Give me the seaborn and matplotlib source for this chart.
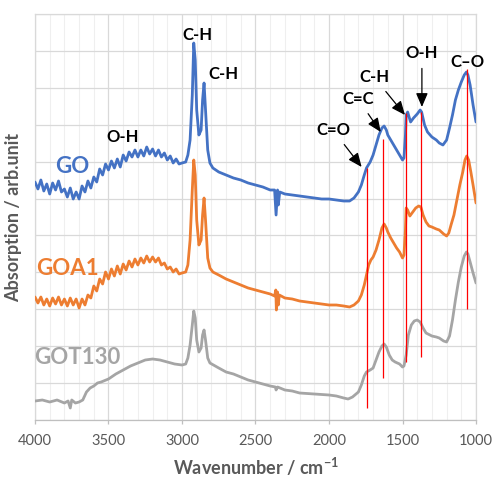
import numpy as np
import pandas as pd
import matplotlib
matplotlib.use("Agg")
import matplotlib.pyplot as plt
from matplotlib.ticker import MultipleLocator
import seaborn as sns

# spectra (wavenumber in cm-1, absorption in arbitrary units, curves stacked)
wn_go = [4000, 3980, 3960, 3940, 3920, 3900, 3880, 3860, 3840, 3820, 3800, 3780, 3760, 3740, 3720, 3700,
         3680, 3660, 3640, 3620, 3600, 3580, 3560, 3540, 3520, 3500, 3480, 3460, 3440, 3420, 3400, 3380,
         3360, 3340, 3320, 3300, 3280, 3260, 3240, 3220, 3200, 3180, 3160, 3140, 3120, 3100, 3080, 3060,
         3040, 3020, 3000, 2975, 2960, 2945, 2930, 2920, 2910, 2900,
         2885, 2870, 2860, 2850, 2840, 2825, 2810, 2790, 2750, 2700, 2650, 2600, 2550, 2500, 2450, 2400,
         2370, 2360, 2350, 2345, 2335, 2300, 2250, 2200, 2150, 2100, 2050, 2000, 1950, 1900, 1860, 1830,
         1800, 1780, 1760, 1745, 1720, 1700, 1680, 1660, 1640, 1625, 1610, 1600, 1580, 1560, 1540, 1520,
         1500, 1490, 1480, 1475, 1465, 1445, 1425, 1400, 1380, 1370, 1350, 1330, 1300, 1270, 1250, 1225,
         1200, 1180, 1160, 1140, 1120, 1100, 1080, 1065, 1055, 1040, 1020, 1000]
abs_go = [238, 231, 240, 229, 236, 226, 237, 230, 239, 228, 231, 223, 232, 221, 228, 221,
          234, 228, 239, 232, 243, 238, 251, 245, 256, 250, 259, 252, 261, 253, 265, 259,
          268, 263, 270, 263, 270, 264, 273, 266, 271, 264, 270, 263, 267, 260, 264, 257,
          261, 256, 257, 258, 265, 280, 325, 377, 360, 310,
          285, 290, 320, 337, 310, 270, 257, 252, 248, 245, 242, 240, 237, 235, 233, 230,
          230, 205, 230, 215, 228, 226, 225, 224, 223, 222, 221, 221, 220, 219, 219, 222,
          228, 235, 245, 252, 258, 265, 275, 285, 292, 294, 290, 285, 280, 275, 270, 265,
          260, 262, 285, 305, 308, 298, 302, 306, 310, 308, 295, 288, 283, 280, 277, 275,
          280, 292, 305, 320, 330, 338, 345, 348, 345, 335, 315, 298]

wn_goa1 = [4000, 3980, 3960, 3940, 3920, 3900, 3880, 3860, 3840, 3820, 3800, 3780, 3760, 3740, 3720, 3700,
           3680, 3660, 3640, 3620, 3600, 3580, 3560, 3540, 3520, 3500, 3480, 3460, 3440, 3420, 3400, 3380,
           3360, 3340, 3320, 3300, 3280, 3260, 3240, 3220, 3200, 3180, 3160, 3140, 3120, 3100, 3080, 3060,
           3040, 3020, 3000, 2975, 2960, 2945, 2930, 2920, 2910, 2900,
           2885, 2870, 2860, 2850, 2840, 2825, 2810, 2790, 2750, 2700, 2650, 2600, 2550, 2500, 2450, 2400,
           2370, 2362, 2358, 2350, 2345, 2338, 2300, 2250, 2200, 2150, 2100, 2050, 2000, 1950, 1900, 1860,
           1830, 1800, 1780, 1760, 1745, 1730, 1715, 1700, 1680, 1660, 1640, 1625, 1610, 1600, 1580, 1560,
           1540, 1520, 1500, 1490, 1480, 1475, 1465, 1450, 1430, 1410, 1390, 1375, 1360, 1340, 1320, 1300,
           1270, 1250, 1220, 1200, 1185, 1170, 1150, 1130, 1110, 1090, 1075, 1063, 1050, 1035, 1020, 1000]
abs_goa1 = [123, 117, 123, 115, 121, 114, 122, 116, 123, 115, 121, 114, 122, 115, 121, 112,
            121, 115, 125, 122, 134, 129, 141, 136, 148, 141, 151, 144, 154, 146, 156, 150,
            159, 153, 161, 155, 162, 157, 164, 158, 163, 158, 162, 155, 157, 151, 153, 148,
            151, 146, 147, 148, 155, 180, 230, 260, 245, 200,
            175, 180, 205, 222, 200, 162, 152, 148, 145, 141, 138, 135, 132, 130, 128, 126,
            124, 130, 110, 128, 115, 125, 122, 121, 119, 118, 117, 116, 115, 115, 114, 113,
            115, 119, 125, 135, 145, 155, 160, 163, 170, 180, 192, 196, 192, 188, 182, 177,
            172, 168, 162, 165, 190, 212, 210, 204, 208, 212, 214, 213, 205, 198, 194, 193,
            191, 190, 186, 184, 187, 195, 205, 220, 235, 248, 260, 264, 260, 248, 235, 217]

wn_got130 = [4000, 3950, 3900, 3850, 3800, 3775, 3760, 3750, 3725, 3700, 3675, 3650, 3625, 3600, 3575, 3550,
             3500, 3450, 3400, 3350, 3300, 3250, 3200, 3150, 3100, 3050, 3000, 2975, 2960, 2945, 2930, 2920,
             2910, 2900, 2885, 2870, 2860, 2850, 2840, 2825, 2810, 2750, 2700, 2650, 2600, 2550, 2500, 2450,
             2400, 2365, 2360, 2350, 2300, 2250, 2200, 2100, 2000, 1950, 1900, 1870, 1840, 1800, 1780, 1760,
             1745, 1720, 1700, 1680, 1660, 1640, 1625, 1610, 1590, 1570, 1550, 1520, 1500, 1490, 1475, 1460,
             1440, 1420, 1400, 1380, 1360, 1340, 1300, 1270, 1250, 1220, 1200, 1180, 1160, 1140, 1120, 1100,
             1080, 1065, 1055, 1040, 1020, 1000]
abs_got130 = [19, 20, 18, 20, 17, 19, 12, 20, 17, 18, 20, 28, 32, 34, 37, 38,
              41, 46, 50, 54, 57, 60, 61, 60, 58, 56, 55, 56, 62, 75, 95, 109,
              102, 80, 68, 72, 85, 90, 80, 62, 57, 52, 48, 46, 43, 40, 38, 36,
              34, 33, 30, 33, 30, 29, 27, 26, 25, 24, 22, 21, 23, 28, 35, 44,
              48, 50, 52, 60, 68, 74, 76, 73, 65, 60, 58, 56, 53, 54, 65, 85,
              95, 99, 100, 98, 92, 87, 84, 83, 82, 79, 78, 84, 100, 120, 138, 153,
              164, 168, 166, 158, 147, 137]

samples = ["GO", "GOA1", "GOT130"]
colors = ["#4472C4", "#ED7D31", "#A5A5A5"]

# red marker lines: wavenumber, bottom, top
line_wn = [1744, 1635, 1474, 1376, 1059]
line_lo = [12, 42, 58, 63, 111]
line_hi = [252, 281, 307, 308, 351]

# peak labels without arrows
plain_txt = ["O-H", "C-H", "C-H", "C\u2013O"]
plain_x = [3401, 2898, 2721, 1061]
plain_y = [283, 385, 346, 358]

# peak labels with arrows: text position, arrow tip
arrow_txt = ["C=O", "C=C", "C-H", "O-H"]
arrow_tx = [1973, 1803, 1694, 1368]
arrow_ty = [290, 321, 343, 367]
arrow_px = [1778, 1648, 1483, 1368]
arrow_py = [253, 288, 305, 313]

# series name labels
name_x = [3748, 3782, 3714]
name_y = [253, 151, 62]

df = pd.concat([
    pd.DataFrame({"wn": wn_go, "a": abs_go, "sample": "GO"}),
    pd.DataFrame({"wn": wn_goa1, "a": abs_goa1, "sample": "GOA1"}),
    pd.DataFrame({"wn": wn_got130, "a": abs_got130, "sample": "GOT130"}),
])

sns.set_style("white")
plt.rcParams["font.family"] = ["Lato", "DejaVu Sans"]
plt.rcParams["mathtext.fontset"] = "custom"
plt.rcParams["mathtext.rm"] = "Lato:bold"
plt.rcParams["mathtext.bf"] = "Lato:bold"

fig = plt.figure(figsize=(4.94, 4.78), dpi=100)
ax = fig.add_axes([35 / 494, 1 - 420 / 478, 441 / 494, 406 / 478])

sns.lineplot(data=df, x="wn", y="a", hue="sample", palette=dict(zip(samples, colors)),
             linewidth=2.0, legend=False, ax=ax, sort=False, zorder=3)

ax.vlines(line_wn, line_lo, line_hi, color="red", lw=0.9, zorder=4)

for t, x, y in zip(plain_txt, plain_x, plain_y):
    ax.text(x, y, t, ha="center", va="center", fontsize=12, fontweight="bold", color="black", zorder=5)

for t, tx, ty, px, py in zip(arrow_txt, arrow_tx, arrow_ty, arrow_px, arrow_py):
    ax.annotate(t, xy=(px, py), xytext=(tx, ty), ha="center", va="center",
                fontsize=12, fontweight="bold", color="black", zorder=5,
                arrowprops=dict(arrowstyle="-|>,head_length=0.7,head_width=0.3",
                                color="black", lw=0.9, shrinkA=3, shrinkB=0))

for name, c, x, y in zip(samples, colors, name_x, name_y):
    ax.text(x, y, name, ha="center", va="center", fontsize=16, fontweight="bold", color=c, zorder=5)

ax.set_xlim(4000, 1000)
ax.set_ylim(0, 406)
ax.xaxis.set_major_locator(MultipleLocator(500))
ax.xaxis.set_minor_locator(MultipleLocator(100))
ax.set_yticks(np.linspace(0, 406, 12))
ax.set_yticklabels([])
ax.grid(which="major", axis="both", color="#D9D9D9", lw=0.9)
ax.grid(which="minor", axis="x", color="#EFEFEF", lw=0.8)
ax.tick_params(axis="x", which="major", length=3, width=0.9, color="#BFBFBF",
               labelsize=10.5, labelcolor="#595959", pad=7, bottom=True)
ax.tick_params(axis="x", which="minor", length=0)
ax.tick_params(axis="y", length=0)
for s in ax.spines.values():
    s.set_color("#D9D9D9")
    s.set_linewidth(0.9)
ax.spines["bottom"].set_color("#BFBFBF")

ax.set_xlabel(r"Wavenumber / cm$^{-1}$", fontsize=13, fontweight="bold", color="#595959", labelpad=6)
ax.set_ylabel("Absorption / arb.unit", fontsize=13, fontweight="bold", color="#595959", labelpad=6)

fig.savefig("out.png", dpi=100)
